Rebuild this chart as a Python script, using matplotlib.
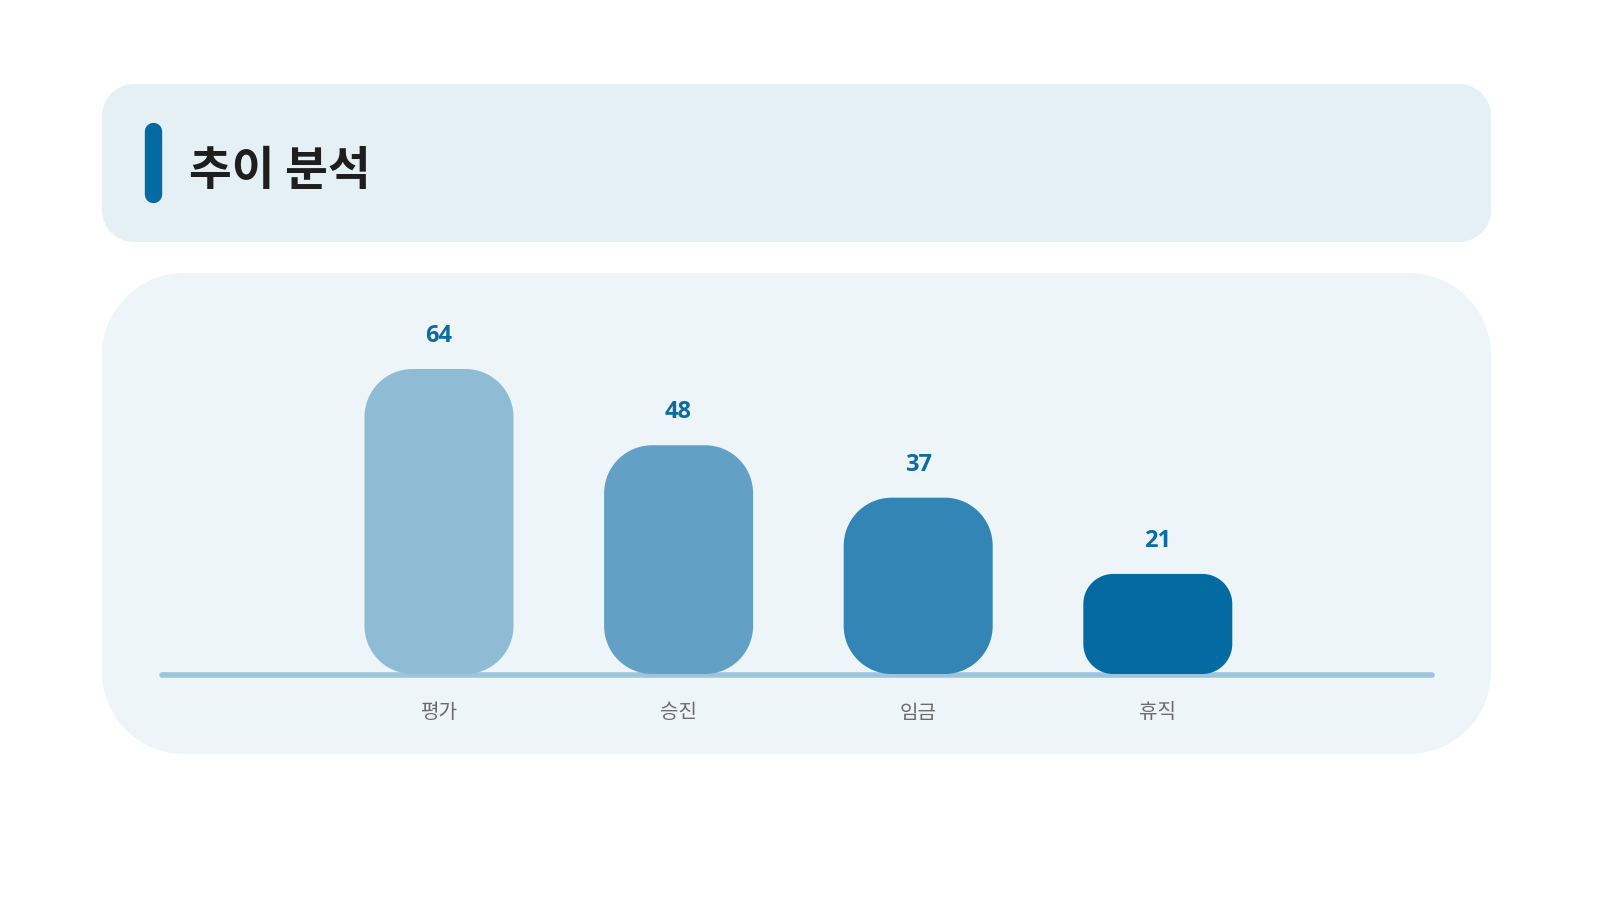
import numpy as np
import matplotlib
matplotlib.use("Agg")
from matplotlib import pyplot as plt
from matplotlib.patches import Polygon

plt.rcParams['font.family'] = ['Noto Sans CJK KR', 'DejaVu Sans']

title = "추이 분석"
categories = ["평가", "승진", "임금", "휴직"]
values = [64, 48, 37, 21]
bar_colors = ["#8FBBD4", "#62A1C5", "#3385B5", "#036AA2"]

W, H = 1598, 900
fig = plt.figure(figsize=(W / 100, H / 100), dpi=100)
fig.patch.set_facecolor("white")


def rounded_rect(x0, y0, x1, y1, rx, ry, n=24):
    # corner arcs, going round counter-clockwise
    pts = []
    corners = [(x1 - rx, y1 - ry, 0), (x0 + rx, y1 - ry, 90),
               (x0 + rx, y0 + ry, 180), (x1 - rx, y0 + ry, 270)]
    for cx, cy, a0 in corners:
        t = np.radians(np.linspace(a0, a0 + 90, n))
        pts += list(zip(cx + rx * np.cos(t), cy + ry * np.sin(t)))
    return np.array(pts)


# background layer in pixel coordinates (y down) for the panels
bg = fig.add_axes([0, 0, 1, 1])
bg.set_xlim(0, W)
bg.set_ylim(H, 0)
bg.axis("off")

bg.add_patch(Polygon(rounded_rect(102, 84, 1491, 242, 32, 32), closed=True,
                     facecolor="#E5F0F5", edgecolor="none"))
bg.add_patch(Polygon(rounded_rect(102, 273, 1491, 754, 82, 82), closed=True,
                     facecolor="#EEF5F9", edgecolor="none"))
# accent bar next to the title
bg.plot([152.5, 152.5], [131, 194], color="#036AA2", lw=12.5, solid_capstyle="round")
bg.text(189, 171, title, fontsize=33.5, fontweight="bold", color="#1E1E1E",
        va="center", ha="left")

# chart axes
px_per_unit = 305 / 64
spacing = 239.6
left_px, right_px, base_px, top_px = 162, 1432, 674, 300
ax = fig.add_axes([left_px / W, (H - base_px) / H, (right_px - left_px) / W, (base_px - top_px) / H])
ax.patch.set_alpha(0)
x = np.arange(len(categories))
ax.set_xlim((left_px - 439) / spacing, (right_px - 439) / spacing)
ax.set_ylim(0, (base_px - top_px) / px_per_unit)
ax.axis("off")

bar_w = 149 / spacing
for xi, v, c in zip(x, values, bar_colors):
    rad_px = min(48, 0.3 * v * px_per_unit)
    rx = rad_px / spacing
    ry = rad_px / px_per_unit
    ax.add_patch(Polygon(rounded_rect(xi - bar_w / 2, 0, xi + bar_w / 2, v, rx, ry),
                         closed=True, facecolor=c, edgecolor="none", clip_on=False, zorder=2))
    ax.text(xi, v + 33 / px_per_unit, str(v), ha="center", va="center", fontsize=17,
            fontweight="bold", color="#0B6BA3", zorder=3,
            family=["Open Sans", "DejaVu Sans"])
    ax.text(xi, -39 / px_per_unit, categories[xi], ha="center", va="center",
            fontsize=14.5, color="#6B6B6B", clip_on=False)

ax.plot([ax.get_xlim()[0], ax.get_xlim()[1]], [-0.2, -0.2], color="#9CC5DD", lw=4,
        solid_capstyle="round", clip_on=False, zorder=1)

fig.savefig("out.png", dpi=100, facecolor="white")
